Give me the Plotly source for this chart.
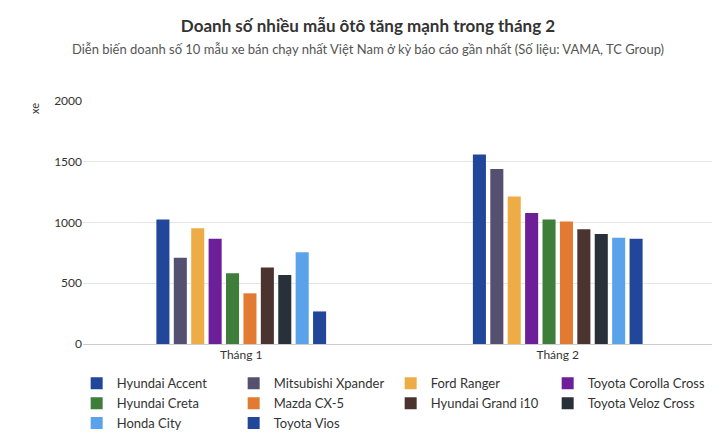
import plotly.graph_objects as go

categories = ["Tháng 1", "Tháng 2"]
models = ["Hyundai Accent", "Mitsubishi Xpander", "Ford Ranger", "Toyota Corolla Cross",
          "Hyundai Creta", "Mazda CX-5", "Hyundai Grand i10", "Toyota Veloz Cross",
          "Honda City", "Toyota Vios"]
thang1 = [1024, 709, 953, 866, 583, 417, 630, 567, 756, 268]
thang2 = [1559, 1441, 1213, 1079, 1024, 1008, 945, 906, 874, 866]
colors = ["#22479a", "#55506f", "#eeac47", "#6c1f98", "#3f7d3b", "#e27a31",
          "#4b342f", "#283139", "#5aa3ea", "#22479a"]

fig = go.Figure()
for i, m in enumerate(models):
    fig.add_trace(go.Bar(name=m, x=categories, y=[thang1[i], thang2[i]],
                         marker_color=colors[i], marker_line_width=0))

fig.update_layout(
    width=720, height=442, barmode="group", bargap=0.45, bargroupgap=0.25,
    plot_bgcolor="white", paper_bgcolor="white",
    font=dict(family="Lato", size=12, color="#333"),
    title=dict(text="<b>Doanh số nhiều mẫu ôtô tăng mạnh trong tháng 2</b><br>"
                    "<span style='font-size:13px;color:#555'>Diễn biến doanh số 10 mẫu xe bán chạy nhất Việt Nam ở kỳ báo cáo gần nhất (Số liệu: VAMA, TC Group)</span>",
               x=0.5, xanchor="center", y=0.945, yanchor="middle", font=dict(size=17, color="#333")),
    margin=dict(l=75, r=12, t=93, b=95),
    yaxis=dict(range=[0, 2000], tickvals=[0, 500, 1000, 1500, 2000], gridcolor="#e6e6e6",
               zeroline=False, tickfont=dict(size=12, color="#333"), ticks=""),
    xaxis=dict(showline=True, linecolor="#ccc", tickfont=dict(size=12, color="#333")),
    legend=dict(orientation="h", x=-0.01, xanchor="left", y=-0.1, yanchor="top",
                entrywidth=112, itemwidth=30, font=dict(size=13, color="#333"),
                traceorder="normal", tracegroupgap=0),
    annotations=[dict(text="xe", textangle=-90, xref="paper", yref="paper",
                      x=-0.09, y=1.0, showarrow=False, font=dict(size=11, color="#333"))],
)
fig.write_html("out.html")
